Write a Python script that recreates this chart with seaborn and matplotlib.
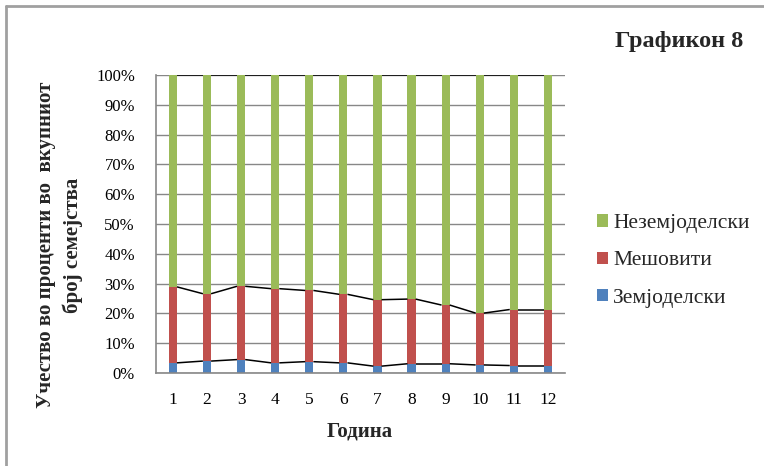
import numpy as np
import pandas as pd
import seaborn as sns
import matplotlib
matplotlib.use('Agg')
import matplotlib.pyplot as plt
from matplotlib.lines import Line2D
from matplotlib.patches import Patch

# values (percent of all families)
years = [1, 2, 3, 4, 5, 6, 7, 8, 9, 10, 11, 12]
zemjodelski = [3.4, 4.0, 4.5, 3.4, 3.8, 3.4, 2.3, 3.1, 3.1, 2.7, 2.5, 2.5]
meshoviti = [25.5, 22.6, 24.6, 24.9, 23.9, 23.0, 22.3, 21.7, 19.7, 17.4, 18.8, 18.8]
nezemjodelski = [100 - z - m for z, m in zip(zemjodelski, meshoviti)]

labels = ['Земјоделски', 'Мешовити', 'Неземјоделски']
colors = ['#4F81BD', '#C0504D', '#9BBB59']

sns.set_style('white')
plt.rcParams['font.family'] = ['Liberation Serif', 'DejaVu Serif']

df = pd.DataFrame({'year': years, 'z': zemjodelski, 'm': meshoviti, 'n': nezemjodelski})
df['cum1'] = df['z']
df['cum2'] = df['z'] + df['m']
df['cum3'] = df['z'] + df['m'] + df['n']

fig = plt.figure(figsize=(7.64, 4.66), dpi=100)
ax = fig.add_axes([0.204, 0.1996, 0.5355, 0.6394])

# gridlines under the bars
ax.set_axisbelow(True)
ax.yaxis.grid(True, color='#878787', linewidth=1)

# stacked bars drawn as cumulative layers, top layer first
width = 0.24
for col, c in zip(['cum3', 'cum2', 'cum1'], colors[::-1]):
    sns.barplot(data=df, x='year', y=col, color=c, width=width, ax=ax,
                saturation=1, linewidth=0, order=years)

# series lines between bar tops
n = len(years)
for col in ['cum1', 'cum2', 'cum3']:
    vals = df[col].values
    for i in range(n - 1):
        x0 = i + width / 2
        x1 = i + 1 - width / 2
        ax.plot([x0, x1], [vals[i], vals[i + 1]], color='black', linewidth=1.1,
                solid_capstyle='butt', zorder=5)

ax.set_xlim(-0.5, n - 0.5)
ax.set_ylim(0, 100)
ax.set_yticks(np.arange(0, 101, 10))
ax.set_yticklabels([f'{v}%' for v in range(0, 101, 10)])
ax.set_xticks(range(n))
ax.set_xticklabels([str(y) for y in years])

for s in ['top', 'right']:
    ax.spines[s].set_visible(False)
for s in ['left', 'bottom']:
    ax.spines[s].set_color('#878787')
    ax.spines[s].set_linewidth(1.2)

ax.tick_params(axis='y', which='major', direction='out', length=6, width=1,
               color='#878787', pad=9, labelsize=12, labelcolor='black')
ax.tick_params(axis='x', which='major', length=0, pad=14, labelsize=12.5,
               labelcolor='black')
ax.set_xlabel('')
ax.set_ylabel('')

fig.text(0.471, 0.073, 'Година', ha='center', va='center', fontsize=15,
         fontweight='bold')
fig.text(0.078, 0.474, 'Учество во проценти во  вкупниот\nброј семејства',
         rotation=90, ha='center', va='center', fontsize=15, fontweight='bold',
         multialignment='center', linespacing=1.45)
fig.text(0.9725, 0.91, 'Графикон 8', ha='right', va='center', fontsize=17.5,
         fontweight='bold')

handles = [Patch(facecolor=colors[2], edgecolor='none'),
           Patch(facecolor=colors[1], edgecolor='none'),
           Patch(facecolor=colors[0], edgecolor='none')]
fig.legend(handles, labels[::-1], loc='center left',
           bbox_to_anchor=(0.770, 0.44), frameon=False, fontsize=15.5,
           handlelength=0.5, handleheight=0.5, handletextpad=0.25,
           labelspacing=0.85, borderaxespad=0)

# chart area frame (only top and left edges visible)
fig.add_artist(Line2D([0.008, 1.0], [0.987, 0.987], color='#A0A0A0',
                      linewidth=2, transform=fig.transFigure))
fig.add_artist(Line2D([0.008, 0.008], [0.0, 0.987], color='#A0A0A0',
                      linewidth=2, transform=fig.transFigure))

fig.savefig('out.png', dpi=100)
